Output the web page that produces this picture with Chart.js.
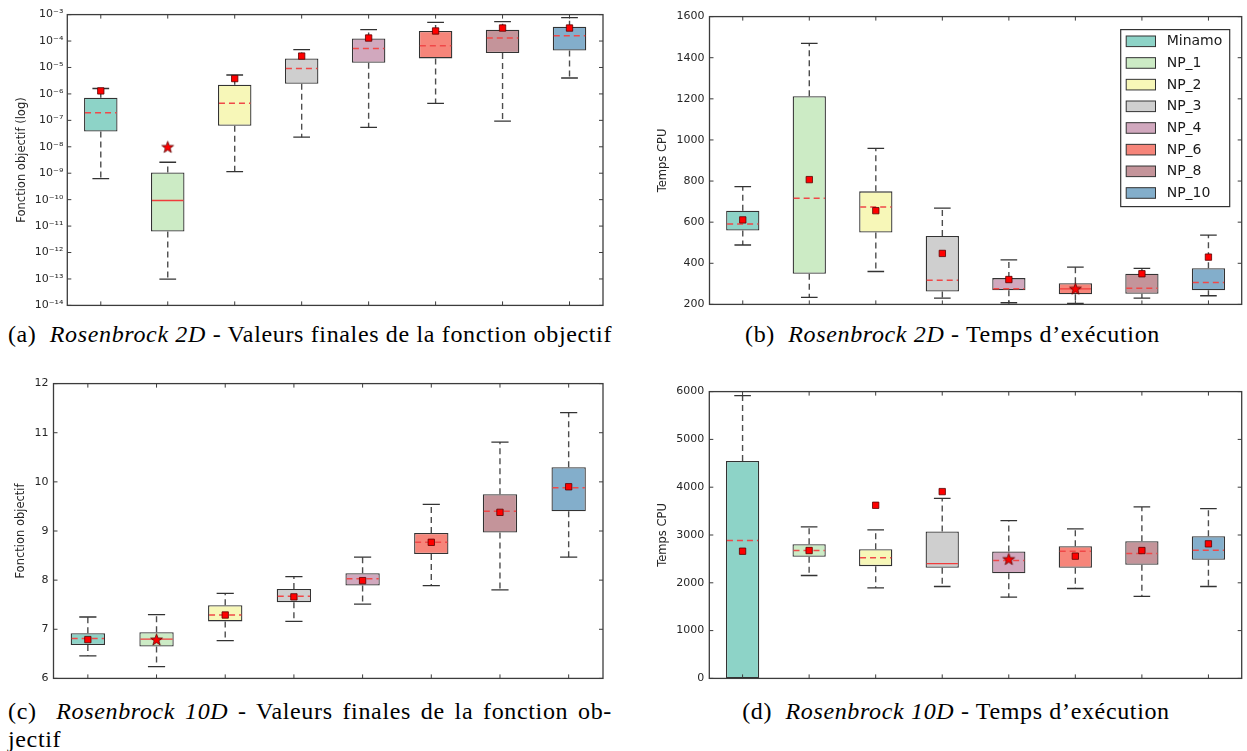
<!DOCTYPE html>
<html><head><meta charset="utf-8">
<script src="https://cdn.jsdelivr.net/npm/chart.js@4.4.1/dist/chart.umd.min.js"></script>
<style>
html,body{margin:0;padding:0;background:#fff;}
body{width:1247px;height:751px;position:relative;overflow:hidden;}
.panel{position:absolute;}
.cap{position:absolute;font-family:"Liberation Serif",serif;font-size:24px;letter-spacing:0.65px;color:#000;white-space:nowrap;line-height:28px;}
.just{text-align:justify;text-align-last:justify;white-space:normal;}
</style></head><body>
<div class="panel" style="left:0;top:4px;width:610px;height:312px"><canvas id="ca"></canvas></div>
<div class="panel" style="left:640px;top:5px;width:607px;height:311px"><canvas id="cb"></canvas></div>
<div class="panel" style="left:0;top:372px;width:610px;height:318px"><canvas id="cc"></canvas></div>
<div class="panel" style="left:640px;top:380px;width:607px;height:310px"><canvas id="cd"></canvas></div>

<div class="cap" style="left:0;top:320px;width:620px;text-align:center">(a)&nbsp; <i>Rosenbrock 2D</i> - Valeurs finales de la fonction objectif</div>
<div class="cap" style="left:640px;top:320px;width:625px;text-align:center">(b)&nbsp; <i>Rosenbrock 2D</i> - Temps d’exécution</div>
<div class="cap just" style="left:8px;top:697px;width:604px">(c)&nbsp; <i>Rosenbrock 10D</i> - Valeurs finales de la fonction ob-</div>
<div class="cap" style="left:8px;top:725px">jectif</div>
<div class="cap" style="left:640px;top:697px;width:632px;text-align:center">(d)&nbsp; <i>Rosenbrock 10D</i> - Temps d’exécution</div>

<script>
// ---------- data ----------
const series = ['Minamo','NP_1','NP_2','NP_3','NP_4','NP_6','NP_8','NP_10'];

// (a) Rosenbrock 2D - objective (log)
const aTickExp = [-14,-13,-12,-11,-10,-9,-8,-7,-6,-5,-4,-3];
const aLow  = [6.2e-10, 9.8e-14, 1.15e-9, 2.3e-8, 5.4e-8, 4.4e-7, 9.3e-8, 4.0e-6];
const aQ1   = [3.8e-8, 6.2e-12, 6.2e-8, 2.4e-6, 1.5e-5, 2.2e-5, 3.5e-5, 4.4e-5];
const aMed  = [1.95e-7, 9.3e-11, 4.4e-7, 9.1e-6, 5.2e-5, 6.6e-5, 1.3e-4, 1.6e-4];
const aQ3   = [7.2e-7, 1.07e-9, 2.24e-6, 2.2e-5, 1.26e-4, 2.4e-4, 2.7e-4, 3.5e-4];
const aHigh = [1.6e-6, 2.6e-9, 5.2e-6, 4.7e-5, 2.7e-4, 5.1e-4, 5.4e-4, 7.7e-4];
const aMean = [1.3e-6, 9.8e-9, 3.8e-6, 2.7e-5, 1.3e-4, 2.4e-4, 3.1e-4, 3.1e-4];

// (b) Rosenbrock 2D - CPU time
const bLow  = [489, 234, 360, 231, 208, 205, 231, 242];
const bQ1   = [559, 349, 550, 263, 269, 249, 252, 269];
const bMed  = [591, 716, 674, 318, 276, 276, 278, 307];
const bQ3   = [656, 1213, 750, 533, 328, 303, 349, 376];
const bHigh = [773, 1470, 959, 668, 417, 381, 375, 537];
const bMean = [611, 807, 656, 448, 321, 276, 349, 430];

// (c) Rosenbrock 10D - objective
const cLow  = [6.46, 6.24, 6.77, 7.16, 7.51, 7.89, 7.80, 8.47];
const cQ1   = [6.68, 6.65, 7.16, 7.55, 7.89, 8.53, 8.97, 9.40];
const cMed  = [6.81, 6.80, 7.29, 7.67, 8.03, 8.77, 9.40, 9.88];
const cQ3   = [6.92, 6.94, 7.49, 7.82, 8.14, 8.96, 9.75, 10.30];
const cHigh = [7.25, 7.30, 7.73, 8.07, 8.47, 9.54, 10.81, 11.41];
const cMean = [6.79, 6.79, 7.29, 7.66, 7.99, 8.77, 9.38, 9.90];

// (d) Rosenbrock 10D - CPU time
const dLow  = [0, 2153, 1895, 1923, 1700, 1881, 1714, 1923];
const dQ1   = [0, 2543, 2348, 2313, 2201, 2313, 2376, 2481];
const dMed  = [2884, 2675, 2522, 2403, 2466, 2661, 2613, 2682];
const dQ3   = [4550, 2807, 2703, 3072, 2654, 2765, 2870, 2975];
const dHigh = [5915, 3170, 3107, 3768, 3302, 3128, 3588, 3553];
const dMean = [2661, 2675, 3622, 3908, 2494, 2557, 2675, 2815];

// which box has a solid median line / star marker, per panel
const solidMedian = {a:1, b:5, c:1, d:3};
const starMarker  = {a:1, b:5, c:1, d:4};

// ---------- style ----------
const boxColors = ['#8dd3c7','#ccebc5','#f7f7b8','#cfcfcf','#d1a8be','#f6857a','#c4949a','#83aecb'];
Chart.defaults.font.family = 'DejaVu Sans';
Chart.defaults.color = '#262626';

function sup(n){
  const m = {'-':'\u207B','0':'\u2070','1':'\u00B9','2':'\u00B2','3':'\u00B3','4':'\u2074','5':'\u2075','6':'\u2076','7':'\u2077','8':'\u2078','9':'\u2079'};
  return String(n).split('').map(c=>m[c]).join('');
}
function makeStar(){
  const c=document.createElement('canvas'); c.width=15; c.height=15;
  const g=c.getContext('2d'); g.beginPath();
  for(let k=0;k<10;k++){const r=k%2?2.5:6.2;const a=-Math.PI/2+k*Math.PI/5;g.lineTo(7.5+r*Math.cos(a),7.9+r*Math.sin(a));}
  g.closePath(); g.fillStyle='#ff0000'; g.fill(); g.strokeStyle='#5a0000'; g.lineWidth=0.8; g.stroke();
  return c;
}
const starImg = makeStar();

const boxPlugin = {
  id:'boxExtras',
  afterDatasetDraw(chart, args){
    if(args.index!==0) return;
    const st = chart.options.plugins.boxExtras;
    const x=chart.scales.x, y=chart.scales.y, ctx=chart.ctx, ca=chart.chartArea;
    ctx.save();
    ctx.beginPath(); ctx.rect(ca.left,ca.top,ca.right-ca.left,ca.bottom-ca.top); ctx.clip();
    const slot = x.getPixelForValue(1)-x.getPixelForValue(0);
    const ln=(x1,y1,x2,y2)=>{ctx.beginPath();ctx.moveTo(x1,y1);ctx.lineTo(x2,y2);ctx.stroke();};
    st.q1.forEach((_,i)=>{
      const cx=x.getPixelForValue(i);
      const pLo=y.getPixelForValue(st.lo[i]), pQ1=y.getPixelForValue(st.q1[i]);
      const pQ3=y.getPixelForValue(st.q3[i]), pHi=y.getPixelForValue(st.hi[i]);
      const pMed=y.getPixelForValue(st.med[i]);
      ctx.strokeStyle='#4d4d4d'; ctx.lineWidth=1.4; ctx.setLineDash([6,4]);
      ln(cx,pQ3,cx,pHi); ln(cx,pQ1,cx,pLo);
      ctx.setLineDash([]); ctx.strokeStyle='#333'; ctx.lineWidth=1.3;
      ln(cx-slot*0.125,pHi,cx+slot*0.125,pHi); ln(cx-slot*0.125,pLo,cx+slot*0.125,pLo);
      if(i===st.solid){ ctx.setLineDash([]); ctx.strokeStyle='#f03c3c'; ctx.lineWidth=1.3; }
      else { ctx.setLineDash([6,4]); ctx.strokeStyle='#f04848'; ctx.lineWidth=1.5; }
      ln(cx-slot*0.25+1,pMed,cx+slot*0.25-1,pMed);
    });
    ctx.restore();
  },
  afterDraw(chart){
    const st = chart.options.plugins.boxExtras;
    const x=chart.scales.x, y=chart.scales.y, ctx=chart.ctx, ca=chart.chartArea;
    ctx.save();
    ctx.strokeStyle='#3c3c3c'; ctx.lineWidth=1;
    y.ticks.forEach(t=>{
      const p=y.getPixelForValue(t.value);
      ctx.beginPath(); ctx.moveTo(ca.left,p); ctx.lineTo(ca.left+4,p);
      ctx.moveTo(ca.right,p); ctx.lineTo(ca.right-4,p); ctx.stroke();
    });
    series.forEach((_,i)=>{
      const p=x.getPixelForValue(i);
      ctx.beginPath(); ctx.moveTo(p,ca.bottom); ctx.lineTo(p,ca.bottom-4);
      ctx.moveTo(p,ca.top); ctx.lineTo(p,ca.top+4); ctx.stroke();
    });
    ctx.lineWidth=1.3; ctx.strokeStyle='#3c3c3c';
    ctx.strokeRect(ca.left,ca.top,ca.right-ca.left,ca.bottom-ca.top);
    if(st.legend){
      const lx=ca.right-121, ly=ca.top+13, lw=109, lh=177;
      ctx.fillStyle='#fff'; ctx.fillRect(lx,ly,lw,lh);
      ctx.lineWidth=1.2; ctx.strokeStyle='#333'; ctx.strokeRect(lx,ly,lw,lh);
      ctx.font='14px "DejaVu Sans"'; ctx.textBaseline='middle';
      series.forEach((name,i)=>{
        const cy=ly+11.7+i*21.67;
        ctx.fillStyle=boxColors[i]; ctx.fillRect(lx+5.5,cy-5.3,29.3,10.6);
        ctx.lineWidth=1; ctx.strokeStyle='#333'; ctx.strokeRect(lx+5.5,cy-5.3,29.3,10.6);
        ctx.fillStyle='#1a1a1a'; ctx.fillText(name,lx+46,cy+0.5);
      });
    }
    ctx.restore();
  }
};

function makeChart(id, cfg){
  const datasets = [
    {type:'bar', data:cfg.q1.map((v,i)=>[v,cfg.q3[i]]), backgroundColor:boxColors,
     borderColor:'#333', borderWidth:1.3, borderSkipped:false, barPercentage:0.5, categoryPercentage:1, order:2},
    {type:'line', data:cfg.mean, showLine:false,
     pointStyle:cfg.mean.map((_,i)=> i===cfg.star ? starImg : 'rect'),
     pointRadius:4.5, pointBackgroundColor:'#ff0000', pointBorderColor:'#5a0000', pointBorderWidth:0.8, order:1}
  ];
  const yScale = Object.assign({
    position:'left',
    grid:{display:false, drawTicks:false},
    border:{display:false},
    title:{display:true, text:cfg.title, font:{size:11.5}, color:'#262626', padding:{top:cfg.titlePad, bottom:0}},
    afterFit:(s)=>{ s.width = cfg.yWidth; }
  }, cfg.yExtra);
  return new Chart(document.getElementById(id), {
    type:'bar',
    data:{labels:series, datasets},
    options:{
      responsive:true, maintainAspectRatio:false, animation:false, events:[],
      layout:{padding:cfg.pad},
      plugins:{legend:{display:false}, tooltip:{enabled:false},
        boxExtras:{lo:cfg.lo,q1:cfg.q1,med:cfg.med,q3:cfg.q3,hi:cfg.hi,solid:cfg.solid,legend:!!cfg.legend}},
      scales:{
        x:{display:false, offset:true},
        y:yScale
      }
    },
    plugins:[boxPlugin]
  });
}

const linTicks = (step)=>({stepSize:step, padding:5, font:{size:11}, color:'#262626', callback:(v)=>String(v)});

makeChart('ca', {lo:aLow,q1:aQ1,med:aMed,q3:aQ3,hi:aHigh,mean:aMean,solid:solidMedian.a,star:starMarker.a,
  title:'Fonction objectif (log)', titlePad:15.2, yWidth:67.3, pad:{top:10,right:7,bottom:6,left:0},
  yExtra:{type:'logarithmic', min:Math.pow(10,aTickExp[0]), max:Math.pow(10,aTickExp[aTickExp.length-1]),
    afterBuildTicks:(s)=>{ s.ticks = aTickExp.map(e=>({value:Math.pow(10,e)})); },
    ticks:{padding:4, font:{size:11}, color:'#262626', callback:(v)=>'10'+sup(Math.round(Math.log10(v)))}}});

makeChart('cb', {lo:bLow,q1:bQ1,med:bMed,q3:bQ3,hi:bHigh,mean:bMean,solid:solidMedian.b,star:starMarker.b,legend:true,
  title:'Temps CPU', titlePad:15.8, yWidth:69.5, pad:{top:10,right:2,bottom:5.7,left:0},
  yExtra:{type:'linear', min:200, max:1600, ticks:linTicks(200)}});

makeChart('cc', {lo:cLow,q1:cQ1,med:cMed,q3:cQ3,hi:cHigh,mean:cMean,solid:solidMedian.c,star:starMarker.c,
  title:'Fonction objectif', titlePad:14, yWidth:53.5, pad:{top:10.3,right:7,bottom:5.7,left:0},
  yExtra:{type:'linear', min:6, max:12, ticks:linTicks(1)}});

makeChart('cd', {lo:dLow,q1:dQ1,med:dMed,q3:dQ3,hi:dHigh,mean:dMean,solid:solidMedian.d,star:starMarker.d,
  title:'Temps CPU', titlePad:15.8, yWidth:69.3, pad:{top:10,right:2.5,bottom:6,left:0},
  yExtra:{type:'linear', min:0, max:6000, ticks:linTicks(1000)}});
</script>
</body></html>
